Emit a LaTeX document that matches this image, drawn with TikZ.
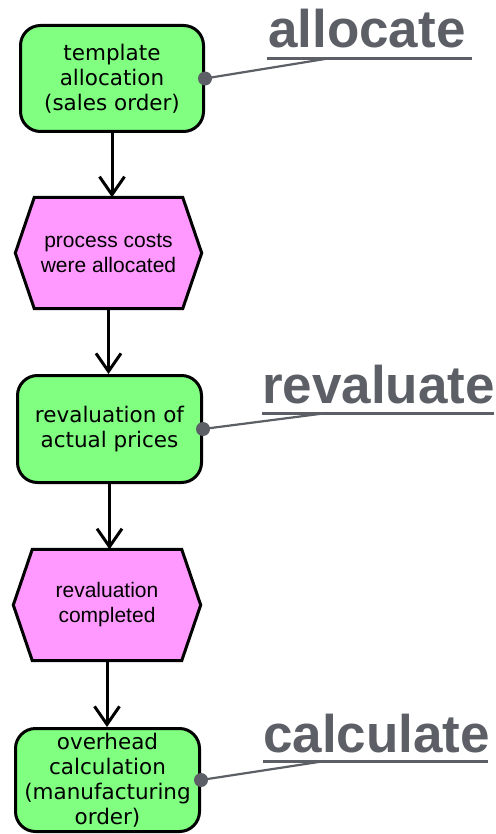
\documentclass[tikz,border=0pt]{standalone}
\usepackage{fontspec}
\setmainfont{DejaVu Sans}
\newfontfamily\arialf{Liberation Sans}
\usetikzlibrary{arrows.meta,backgrounds,calc}
\definecolor{fgreen}{RGB}{128,255,128}
\definecolor{fpink}{RGB}{255,153,255}
\definecolor{lgrey}{RGB}{92,95,102}
\begin{document}
\begin{tikzpicture}[x=1pt,y=-1pt,
 func/.style={draw=black,line width=3pt,fill=fgreen,rounded corners=20pt,inner sep=0pt,align=center,font=\fontsize{21.5}{25}\selectfont},
 evt/.style={inner sep=0pt,align=center,font=\arialf\fontsize{21}{25}\selectfont},
 evtshape/.style={draw=black,line width=3pt,fill=fpink,line join=miter},
 flow/.style={line width=3pt,-{Straight Barb[length=18pt,width=25pt,line width=3pt]}},
 lbl/.style={text=lgrey,font=\arialf\bfseries\fontsize{53}{60}\selectfont,inner sep=0pt,anchor=base west},
 ul/.style={draw=lgrey,line width=3pt},
 lnk/.style={draw=lgrey,line width=2.2pt},
 dotc/.style={circle,fill=lgrey,inner sep=0pt,minimum size=14pt}]
\useasboundingbox (0,0) rectangle (495,834);

% functions
\node[func,minimum width=183pt,minimum height=106pt] (b1) at (112,78.5) {template\\allocation\\(sales order)};
\node[func,minimum width=184pt,minimum height=107pt] (b2) at (109.5,429) {revaluation of\\actual prices};
\node[func,minimum width=184pt,minimum height=103pt] (b3) at (107.5,780) {overhead\\calculation\\(manufacturing\\order)};

% events
\node[evt,minimum width=186pt,minimum height=111pt] (e1) at (108.5,253) {process costs\\were allocated};
\node[evt,minimum width=187pt,minimum height=111pt] (e2) at (107,605) {revaluation\\completed};
\begin{scope}[on background layer]
\foreach \e in {e1,e2}{
\draw[evtshape] (\e.west) -- ([xshift=19pt]\e.north west) -- ([xshift=-19pt]\e.north east) -- (\e.east) -- ([xshift=-19pt]\e.south east) -- ([xshift=19pt]\e.south west) -- cycle;
}
\end{scope}

% flows
\draw[flow] (b1.south) -- (b1.south |- e1.north);
\draw[flow] (e1.south) -- (e1.south |- b2.north);
\draw[flow] (b2.south) -- (b2.south |- e2.north);
\draw[flow] (e2.south) -- (e2.south |- b3.north);

% labels
\node[lbl] (l1) at (268,48) {allocate};
\node[lbl] (l2) at (262,403) {revaluate};
\node[lbl] (l3) at (263,752) {calculate};
\coordinate (u1a) at (267,58.5); \coordinate (u1b) at (472,58.5); \coordinate (u1) at (328,58.5);
\coordinate (u2a) at (262,413); \coordinate (u2b) at (494,413); \coordinate (u2) at (327,413);
\coordinate (u3a) at (263,761); \coordinate (u3b) at (488,761); \coordinate (u3) at (325,761);
\draw[ul] (u1a) -- (u1b);
\draw[ul] (u2a) -- (u2b);
\draw[ul] (u3a) -- (u3b);
\node[dotc] (d1) at (b1.east) {};
\node[dotc] (d2) at (b2.east) {};
\node[dotc] (d3) at (b3.east) {};
\draw[lnk] (d1.center) -- (u1);
\draw[lnk] (d2.center) -- (u2);
\draw[lnk] (d3.center) -- (u3);
\end{tikzpicture}
\end{document}
